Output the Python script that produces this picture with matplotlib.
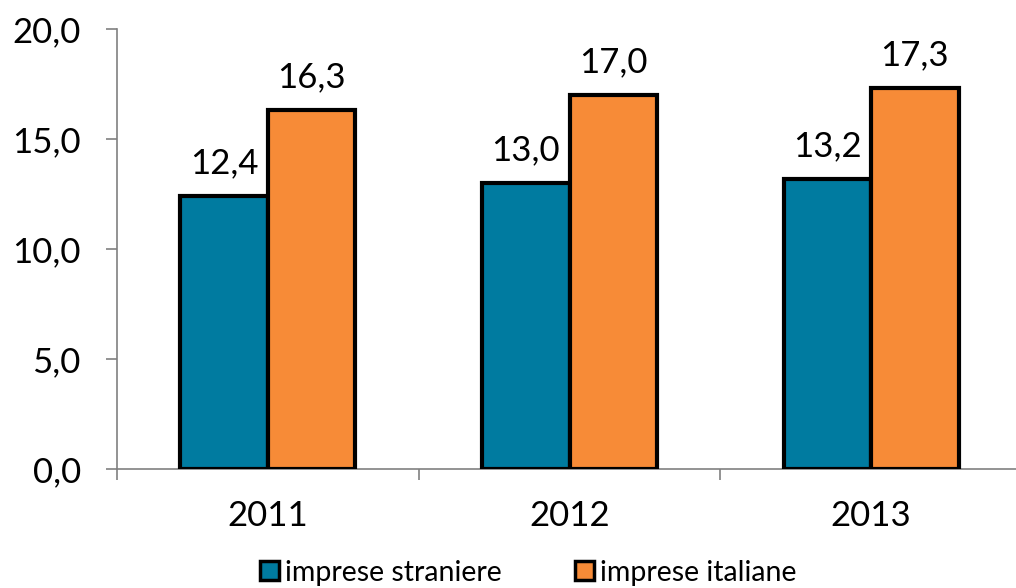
import matplotlib
matplotlib.use("Agg")
import matplotlib.pyplot as plt
import numpy as np

plt.rcParams['font.family'] = ['Lato', 'DejaVu Sans']

anni = ['2011', '2012', '2013']
straniere = [12.4, 13.0, 13.2]
italiane = [16.3, 17.0, 17.3]
serie = ['imprese straniere', 'imprese italiane']
colori = ['#007BA0', '#F78B37']

fig = plt.figure(figsize=(10.16, 5.88), dpi=100)
ax = fig.add_axes([117/1016, 119/588, 905/1016, 440/588])

x = np.arange(len(anni))
w = 0.29
for i, (vals, lab, col) in enumerate(zip([straniere, italiane], serie, colori)):
    pos = x + (i - 0.5) * w
    ax.bar(pos, vals, w, color=col, edgecolor='black', linewidth=3, label=lab, zorder=3)
    for p, v in zip(pos, vals):
        ax.annotate(f"{v:.1f}".replace('.', ','), (p, v), xytext=(0, 12),
                    textcoords='offset points', ha='center', va='bottom', fontsize=25)

ax.set_xlim(-0.5, 2.5)
ax.set_ylim(0, 20)
ax.set_yticks(np.arange(0, 20.1, 5))
ax.set_yticklabels([f"{t:.1f}".replace('.', ',') for t in np.arange(0, 20.1, 5)], fontsize=25)
ax.set_xticks(x)
ax.set_xticklabels(anni, fontsize=25)
ax.set_xticks([-0.5, 0.5, 1.5, 2.5], minor=True)
ax.tick_params(axis='x', which='major', length=0, pad=22)
ax.tick_params(axis='x', which='minor', length=8, width=1.2, color='#808080')
ax.tick_params(axis='y', length=8, width=1.2, color='#808080', pad=18)
for s in ['top', 'right']:
    ax.spines[s].set_visible(False)
for s in ['left', 'bottom']:
    ax.spines[s].set_color('#808080')
    ax.spines[s].set_linewidth(1.2)

leg = fig.legend(loc='lower center', bbox_to_anchor=(0.52, -0.04), ncol=2, frameon=False,
                 fontsize=20.5, handlelength=0.65, handleheight=0.65, handletextpad=0.2,
                 columnspacing=2.6)
for h in leg.legend_handles:
    h.set_linewidth(2.5)

fig.savefig('out.png', dpi=100)
